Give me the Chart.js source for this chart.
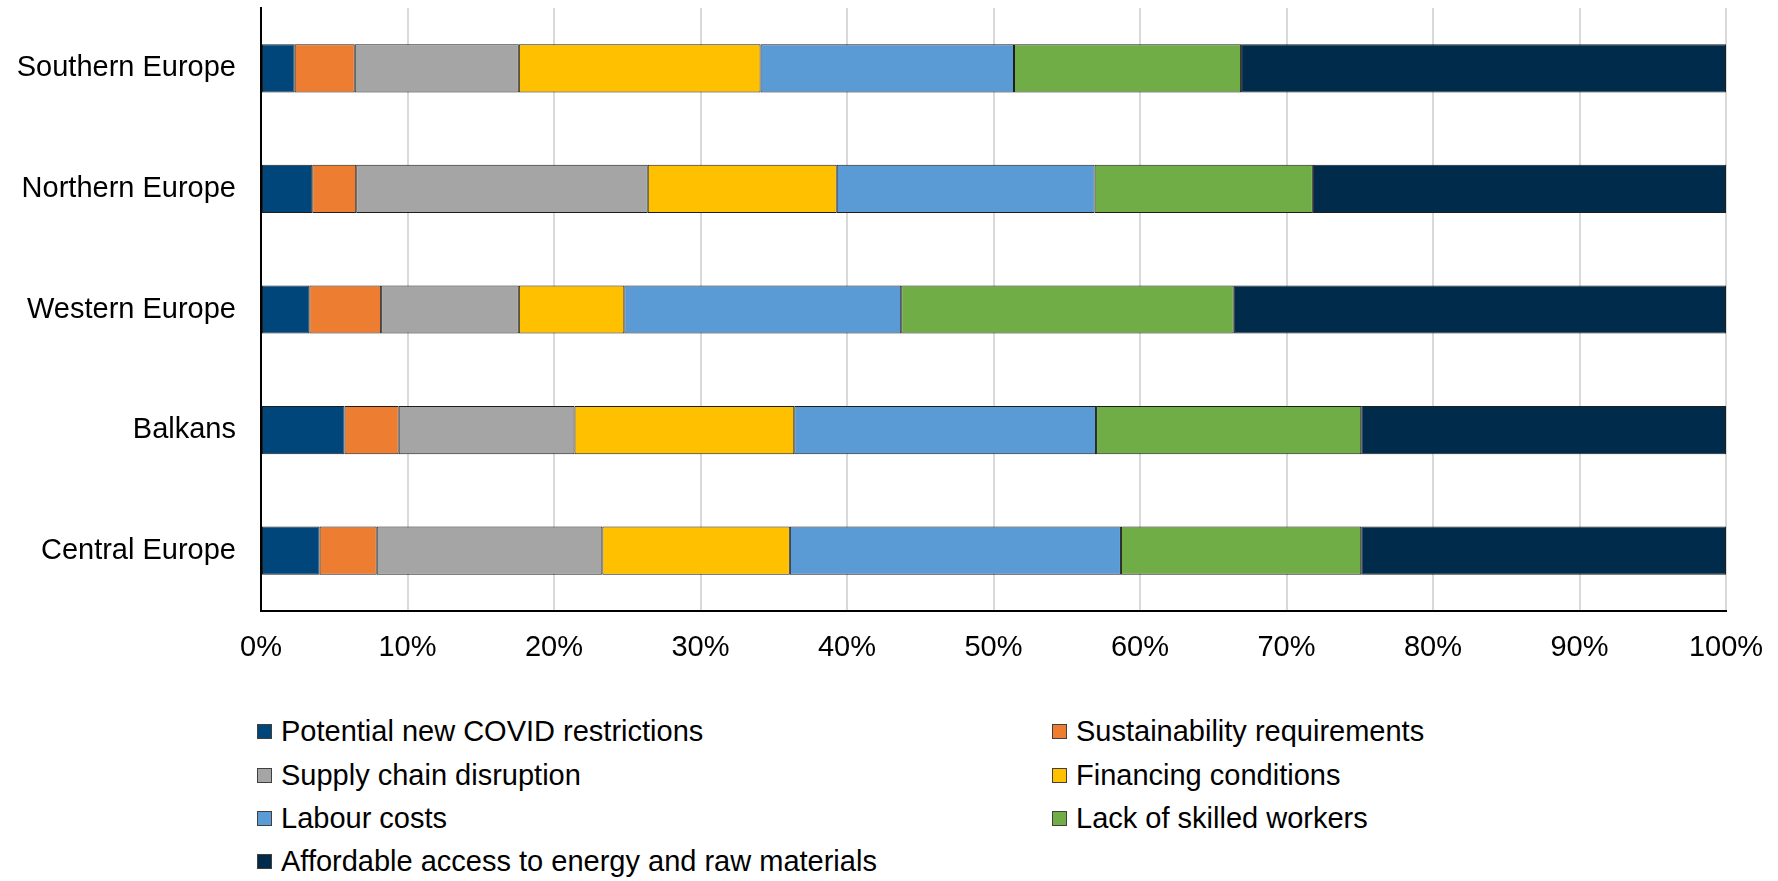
<!DOCTYPE html>
<html>
<head>
<meta charset="utf-8">
<script src="https://cdn.jsdelivr.net/npm/chart.js@4/dist/chart.umd.min.js"></script>
<style>
  html, body { margin: 0; padding: 0; background: #ffffff; }
  #wrap { position: relative; width: 1778px; height: 881px; font-family: "Liberation Sans", Arial, sans-serif; }
  #chart { position: absolute; left: 0; top: 0; }
  #legend {
    position: absolute; left: 257px; top: 710px;
    display: grid; grid-template-columns: 795px auto; grid-auto-rows: 43.4px;
    font-size: 29px; color: #000;
  }
  .item { display: flex; align-items: center; white-space: nowrap; }
  .swatch { width: 13px; height: 13px; border: 1px solid #404040; margin-right: 9px; flex: none; }
</style>
</head>
<body>
<div id="wrap">
  <canvas id="chart" width="1778" height="700"></canvas>
  <div id="legend"></div>
</div>
<script>
// Regions shown on the vertical axis, top to bottom
const regions = ["Southern Europe", "Northern Europe", "Western Europe", "Balkans", "Central Europe"];

// Share of responses per concern (percent), one entry per region
const covidRestrictions   = [2.3, 3.5, 3.3, 5.7, 4.0];
const sustainability      = [4.1, 3.0, 4.9, 3.7, 3.9];
const supplyChain         = [11.2, 19.9, 9.4, 12.0, 15.4];
const financing           = [16.5, 12.9, 7.2, 15.0, 12.8];
const labourCosts         = [17.3, 17.6, 18.9, 20.6, 22.6];
const skilledWorkers      = [15.5, 14.9, 22.7, 18.1, 16.4];
const energyAccess        = [33.1, 28.2, 33.6, 24.9, 24.9];

// Horizontal axis ticks
const xTicks = [0, 10, 20, 30, 40, 50, 60, 70, 80, 90, 100];

const seriesNames = [
  "Potential new COVID restrictions",
  "Sustainability requirements",
  "Supply chain disruption",
  "Financing conditions",
  "Labour costs",
  "Lack of skilled workers",
  "Affordable access to energy and raw materials"
];
const seriesValues = [covidRestrictions, sustainability, supplyChain, financing, labourCosts, skilledWorkers, energyAccess];
const seriesColors = ["#00467a", "#ed7d31", "#a5a5a5", "#ffc000", "#5b9bd5", "#70ad47", "#002b4a"];

const FONT = "'Liberation Sans', Arial, sans-serif";

const datasets = seriesNames.map((name, i) => ({
  label: name,
  data: seriesValues[i],
  backgroundColor: seriesColors[i],
  borderColor: "#1e1e1e",
  borderWidth: 1,
  borderSkipped: false,
  barPercentage: 0.4,
  categoryPercentage: 1.0
}));

new Chart(document.getElementById("chart"), {
  type: "bar",
  data: { labels: regions, datasets },
  options: {
    indexAxis: "y",
    responsive: false,
    animation: false,
    devicePixelRatio: 1,
    layout: { padding: { top: 8, right: 52, bottom: 0, left: 0 } },
    plugins: { legend: { display: false }, tooltip: { enabled: false } },
    scales: {
      x: {
        stacked: true,
        min: 0,
        max: 100,
        afterBuildTicks: (s) => { s.ticks = xTicks.map(v => ({ value: v })); },
        afterFit: (s) => { s.height = 89; s.paddingRight = 0; },
        grid: { color: "#d9d9d9", lineWidth: 2, drawTicks: false },
        border: { display: true, color: "#000000", width: 2 },
        ticks: {
          color: "#000000",
          padding: 20,
          font: { family: FONT, size: 29 },
          callback: (v) => v + "%"
        }
      },
      y: {
        stacked: true,
        afterFit: (s) => { s.width = 261; s.paddingTop = 0; s.paddingBottom = 0; },
        grid: { display: false, drawTicks: false },
        border: { display: true, color: "#000000", width: 2 },
        ticks: {
          color: "#000000",
          padding: 25,
          font: { family: FONT, size: 29 }
        }
      }
    }
  }
});

// Two-column legend built from the series
const legend = document.getElementById("legend");
seriesNames.forEach((name, i) => {
  const item = document.createElement("div");
  item.className = "item";
  const sw = document.createElement("span");
  sw.className = "swatch";
  sw.style.background = seriesColors[i];
  const txt = document.createElement("span");
  txt.textContent = name;
  item.appendChild(sw);
  item.appendChild(txt);
  legend.appendChild(item);
});
</script>
</body>
</html>
